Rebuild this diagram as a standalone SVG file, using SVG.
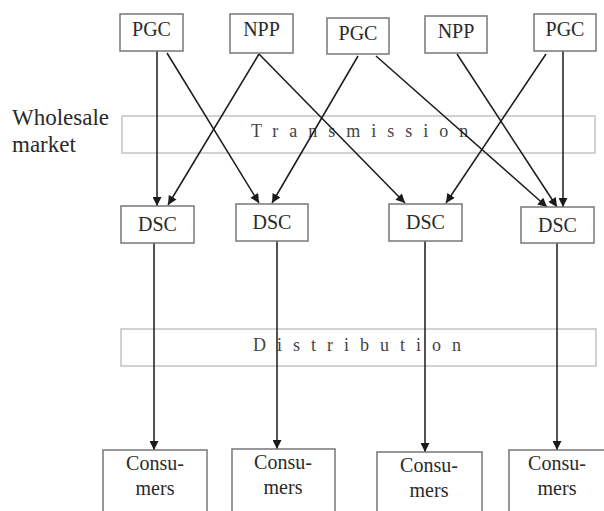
<svg xmlns="http://www.w3.org/2000/svg" width="604" height="511" viewBox="0 0 604 511">
  <style>
    .box { fill: #fff; stroke: #777; stroke-width: 1.5; }
    .band { fill: none; stroke: #bbb; stroke-width: 1.3; }
    .serif { font-family: "Liberation Serif", "DejaVu Serif", "Times New Roman", Times, serif; }
    .lbl { font-size: 20px; fill: #2a2a2a; text-anchor: middle; }
    .side { font-size: 23px; fill: #2a2a2a; }
    .spaced { font-size: 18px; fill: #444; letter-spacing: 11px; }
    .edge { fill: none; stroke: #1a1a1a; stroke-width: 1.5; marker-end: url(#arrow); }
  </style>
  <defs>
    <marker id="arrow" viewBox="0 0 10 10" refX="10" refY="5" markerWidth="10" markerHeight="9" markerUnits="userSpaceOnUse" orient="auto">
      <path d="M0,0 L10,5 L0,10 z" fill="#1a1a1a"/>
    </marker>
  </defs>

  <rect width="604" height="511" fill="#fff"/>

  <!-- side label -->
  <g id="wholesale-label" class="serif">
    <text class="side" x="12" y="125">Wholesale</text>
    <text class="side" x="12" y="152">market</text>
  </g>

  <!-- bands -->
  <g id="transmission" class="serif">
    <rect class="band" x="122" y="116" width="473" height="37"/>
    <text class="spaced" x="251" y="137">Transmission</text>
  </g>
  <g id="distribution" class="serif">
    <rect class="band" x="121" y="329" width="475" height="37"/>
    <text class="spaced" x="253" y="351">Distribution</text>
  </g>

  <!-- connectors -->
  <g id="connectors">
    <line class="edge" x1="157" y1="51" x2="157" y2="206"/>
    <line class="edge" x1="167" y1="53" x2="259" y2="203"/>
    <line class="edge" x1="259" y1="54" x2="168" y2="205"/>
    <line class="edge" x1="259" y1="54" x2="405" y2="203"/>
    <line class="edge" x1="358" y1="56" x2="272" y2="203"/>
    <line class="edge" x1="376" y1="56" x2="547" y2="207"/>
    <line class="edge" x1="457" y1="54" x2="557" y2="207"/>
    <line class="edge" x1="546" y1="54" x2="446" y2="203"/>
    <line class="edge" x1="563" y1="51" x2="563" y2="207"/>

    <line class="edge" x1="154" y1="243" x2="154" y2="450"/>
    <line class="edge" x1="277" y1="241" x2="277" y2="449"/>
    <line class="edge" x1="425" y1="241" x2="425" y2="452"/>
    <line class="edge" x1="557" y1="243" x2="557" y2="450"/>
  </g>

  <!-- generators -->
  <g id="pgc1" class="serif"><rect class="box" x="120" y="14" width="63" height="37"/><text class="lbl" x="151.5" y="36">PGC</text></g>
  <g id="npp1" class="serif"><rect class="box" x="230" y="14" width="63" height="39"/><text class="lbl" x="261.5" y="36">NPP</text></g>
  <g id="pgc2" class="serif"><rect class="box" x="327" y="18" width="62" height="36"/><text class="lbl" x="358" y="40">PGC</text></g>
  <g id="npp2" class="serif"><rect class="box" x="425" y="16" width="62" height="37"/><text class="lbl" x="456" y="38">NPP</text></g>
  <g id="pgc3" class="serif"><rect class="box" x="534" y="14" width="62" height="37"/><text class="lbl" x="565" y="36">PGC</text></g>

  <!-- distribution companies -->
  <g id="dsc1" class="serif"><rect class="box" x="121" y="206" width="73" height="37"/><text class="lbl" x="157.5" y="231">DSC</text></g>
  <g id="dsc2" class="serif"><rect class="box" x="236" y="204" width="72" height="37"/><text class="lbl" x="272" y="229">DSC</text></g>
  <g id="dsc3" class="serif"><rect class="box" x="389" y="204" width="73" height="37"/><text class="lbl" x="425.5" y="229">DSC</text></g>
  <g id="dsc4" class="serif"><rect class="box" x="521" y="207" width="73" height="36"/><text class="lbl" x="557.5" y="232">DSC</text></g>

  <!-- consumers -->
  <g id="consumers1" class="serif"><rect class="box" x="103" y="450" width="104" height="70"/><text class="lbl" x="155" y="470">Consu-</text><text class="lbl" x="155" y="495">mers</text></g>
  <g id="consumers2" class="serif"><rect class="box" x="232" y="449" width="103" height="70"/><text class="lbl" x="283" y="469">Consu-</text><text class="lbl" x="283" y="494">mers</text></g>
  <g id="consumers3" class="serif"><rect class="box" x="377" y="452" width="105" height="70"/><text class="lbl" x="429" y="472">Consu-</text><text class="lbl" x="429" y="497">mers</text></g>
  <g id="consumers4" class="serif"><rect class="box" x="509" y="450" width="100" height="70"/><text class="lbl" x="557" y="470">Consu-</text><text class="lbl" x="557" y="495">mers</text></g>
</svg>
